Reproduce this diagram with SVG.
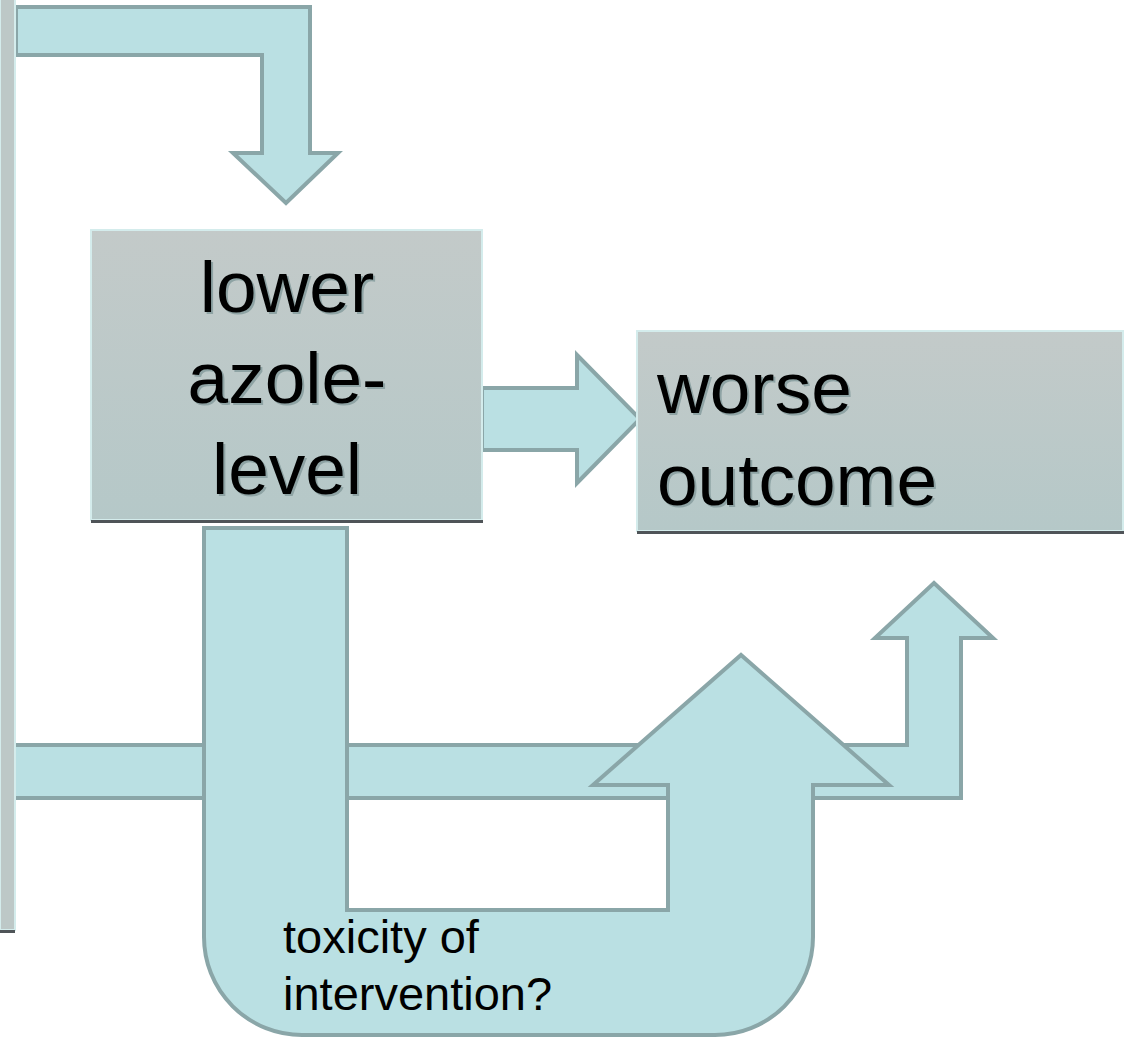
<svg xmlns="http://www.w3.org/2000/svg" width="1129" height="1040" viewBox="0 0 1129 1040">
<defs>
<linearGradient id="boxg" x1="0" y1="0" x2="0" y2="1">
<stop offset="0" stop-color="#c3cac9"/>
<stop offset="1" stop-color="#b5c8c8"/>
</linearGradient>
<style>
.arrow{fill:#bae0e3;stroke:#8aa6a8;stroke-width:4;stroke-linejoin:miter}
.box{fill:url(#boxg);stroke:#d4ecec;stroke-width:2}
.base{fill:#4f5458}
.big{font-family:"Liberation Sans",Arial,sans-serif;font-size:73px;fill:#000}
.shadow{font-family:"Liberation Sans",Arial,sans-serif;font-size:73px;fill:#8ea3a4}
.small{font-family:"Liberation Sans",Arial,sans-serif;font-size:47px;fill:#000}
</style>
</defs>
<rect width="1129" height="1040" fill="#ffffff"/>

<g id="connectors">
<path id="arrow-top" class="arrow" d="M16,7 H310 V153 H338 L286,203 L233,153 H262 V55 H16 Z"/>
<path id="arrow-right" class="arrow" d="M482,388 H577 V355 L640,419 L577,483 V450 H482 Z"/>
<path id="arrow-bottom" class="arrow" d="M14,745 H907 V638 H875 L934,583 L993,638 H961 V798 H14 Z"/>
<path id="arrow-u" class="arrow" d="M204,528 H347 V910 H668 V785 H593 L741,655 L889,785 H813 V937 A98,98 0 0 1 715,1035 H302 A98,98 0 0 1 204,937 Z"/>
</g>

<g id="left-panel">
<rect x="0" y="-2" width="15" height="932" fill="#bdc8c7" stroke="#d4ecec" stroke-width="2"/>
<rect x="0" y="930" width="15" height="3" class="base"/>
</g>

<g id="node-lower">
<rect x="91" y="230" width="391" height="290" class="box"/>
<rect x="91" y="520" width="392" height="3" class="base"/>
<g text-anchor="middle">
<text x="289" y="314" class="shadow">lower</text>
<text x="289" y="405" class="shadow">azole-</text>
<text x="289" y="496" class="shadow">level</text>
<text x="287" y="312" class="big">lower</text>
<text x="287" y="403" class="big">azole-</text>
<text x="287" y="494" class="big">level</text>
</g>
</g>

<g id="node-worse">
<rect x="637" y="331" width="486" height="200" class="box"/>
<rect x="637" y="531" width="487" height="3" class="base"/>
<text x="659" y="415" class="shadow">worse</text>
<text x="659" y="507" class="shadow">outcome</text>
<text x="657" y="413" class="big">worse</text>
<text x="657" y="505" class="big">outcome</text>
</g>

<g id="label-toxicity">
<text x="283" y="953" class="small">toxicity of</text>
<text x="283" y="1010" class="small">intervention?</text>
</g>
</svg>
